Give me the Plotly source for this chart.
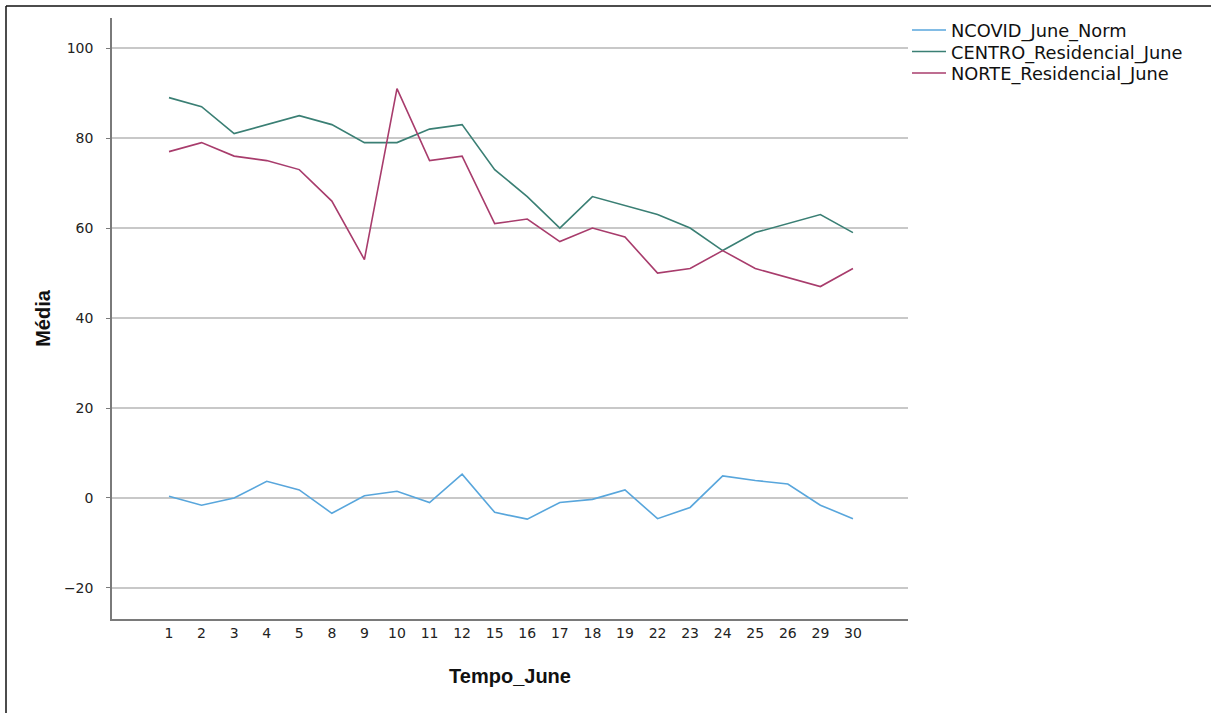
import plotly.graph_objects as go

# Day-of-June categories and the mean series per day
dias = ["1", "2", "3", "4", "5", "8", "9", "10", "11", "12", "15", "16",
        "17", "18", "19", "22", "23", "24", "25", "26", "29", "30"]

ncovid_june_norm = [0.4, -1.6, 0.0, 3.7, 1.8, -3.4, 0.5, 1.5, -1.0, 5.3, -3.2, -4.7,
                    -1.0, -0.3, 1.8, -4.6, -2.1, 4.9, 3.9, 3.1, -1.6, -4.6]
centro_residencial_june = [89, 87, 81, 83, 85, 83, 79, 79, 82, 83, 73, 67,
                           60, 67, 65, 63, 60, 55, 59, 61, 63, 59]
norte_residencial_june = [77, 79, 76, 75, 73, 66, 53, 91, 75, 76, 61, 62,
                          57, 60, 58, 50, 51, 55, 51, 49, 47, 51]

y_ticks = [-20, 0, 20, 40, 60, 80, 100]

series = [
    ("NCOVID_June_Norm", ncovid_june_norm, "#58a6dc"),
    ("CENTRO_Residencial_June", centro_residencial_june, "#3a7f74"),
    ("NORTE_Residencial_June", norte_residencial_june, "#a83c6c"),
]

W, H = 1211, 713
L, R, T, B = 112, 908, 18, 619   # plot area in pixels

def px_x(p):
    return (p - L) / (R - L)

def px_y(p):
    return (B - p) / (B - T)

# one legend per series so the rows sit tightly stacked
legend_ids = ["legend", "legend2", "legend3"]
legend_tops = [12, 33.5, 55]

fig = go.Figure()
for (name, vals, color), lid in zip(series, legend_ids):
    fig.add_trace(go.Scatter(
        x=dias, y=vals, name=name, mode="lines",
        line=dict(color=color, width=1.6), legend=lid,
    ))

legend_style = dict(
    x=px_x(907), xanchor="left", yanchor="top",
    font=dict(size=17.8, family="DejaVu Sans", color="#111111"),
    bgcolor="rgba(0,0,0,0)", itemwidth=34,
)

fig.update_layout(
    width=W, height=H,
    margin=dict(l=L, r=W - R, t=T, b=H - B, autoexpand=False),
    paper_bgcolor="white", plot_bgcolor="white",
    font=dict(family="DejaVu Sans", color="#222222"),
    showlegend=True,
    **{lid: dict(legend_style, y=px_y(top)) for lid, top in zip(legend_ids, legend_tops)},
    xaxis=dict(
        type="category", categoryorder="array", categoryarray=dias,
        range=[-1.75, 22.69],
        showgrid=False, zeroline=False,
        showline=True, linecolor="#7a7a7a", linewidth=1.5,
        ticks="", tickfont=dict(size=14, color="#222222"),
        title=dict(text="<b>Tempo_June</b>", standoff=29,
                   font=dict(size=20, family="Liberation Sans", color="#111111")),
    ),
    yaxis=dict(
        range=[-26.9, 106.7],
        tickvals=y_ticks,
        showgrid=True, gridcolor="#c8c8c8", gridwidth=1.5,
        zeroline=False,
        showline=True, linecolor="#7a7a7a", linewidth=1.5,
        ticks="outside", ticklen=4, tickcolor="#7a7a7a", tickwidth=1,
        ticklabelstandoff=10,
        tickfont=dict(size=14, color="#222222"),
        title=dict(text="<b>Média</b>", standoff=8,
                   font=dict(size=20, family="Liberation Sans", color="#111111")),
    ),
    shapes=[
        # outer frame: left and top edges
        dict(type="line", xref="paper", yref="paper",
             x0=px_x(6), x1=px_x(6), y0=px_y(6), y1=px_y(713),
             line=dict(color="#111111", width=1.5)),
        dict(type="line", xref="paper", yref="paper",
             x0=px_x(6), x1=px_x(1211), y0=px_y(6), y1=px_y(6),
             line=dict(color="#111111", width=1.5)),
    ],
)

fig.write_html("out.html")
